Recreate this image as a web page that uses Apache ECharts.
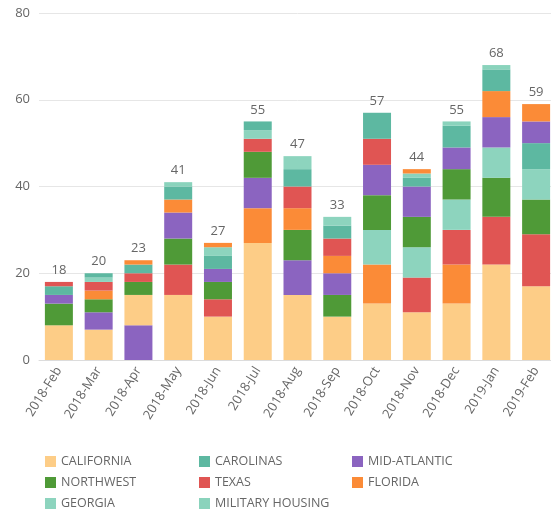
<!DOCTYPE html>
<html>
<head>
<meta charset="utf-8">
<script src="https://cdn.jsdelivr.net/npm/echarts@6/dist/echarts.min.js"></script>
<style>
  html, body { margin: 0; padding: 0; background: #fff; overflow: hidden; }
  #chart { width: 556px; height: 512px; }
</style>
</head>
<body>
<div id="chart"></div>
<script>
// Monthly counts per region
const categories = ['2018-Feb','2018-Mar','2018-Apr','2018-May','2018-Jun','2018-Jul','2018-Aug',
                    '2018-Sep','2018-Oct','2018-Nov','2018-Dec','2019-Jan','2019-Feb'];
const california      = [8, 7, 7, 15, 10, 27, 15, 10, 13, 11, 13, 22, 17];
const carolinas       = [2, 1, 2,  3,  3,  2,  4,  3,  6,  2,  5,  5,  6];
const midAtlantic     = [2, 4, 8,  6,  3,  7,  8,  5,  7,  7,  5,  7,  5];
const northwest       = [5, 3, 3,  6,  4,  6,  7,  5,  8,  7,  7,  9,  8];
const texas           = [1, 2, 2,  7,  4,  3,  5,  4,  6,  8,  8, 11, 12];
const florida         = [0, 2, 1,  3,  1,  8,  5,  4,  9,  1,  9,  6,  4];
const georgia         = [0, 1, 0,  0,  2,  2,  3,  2,  8,  7,  7,  7,  7];
const militaryHousing = [0, 0, 0,  1,  0,  0,  0,  0,  0,  1,  1,  1,  0];
const yTicks = [0, 20, 40, 60, 80];

const regions = [
  { name: 'CALIFORNIA',       values: california,      color: '#fdcd87', tie: 0 },
  { name: 'CAROLINAS',        values: carolinas,       color: '#5db8a1', tie: 7 },
  { name: 'MID-ATLANTIC',     values: midAtlantic,     color: '#8b64c0', tie: 6 },
  { name: 'NORTHWEST',        values: northwest,       color: '#4f9a37', tie: 5 },
  { name: 'TEXAS',            values: texas,           color: '#e05553', tie: 3 },
  { name: 'FLORIDA',          values: florida,         color: '#fb8b37', tie: 2 },
  { name: 'GEORGIA',          values: georgia,         color: '#8dd4be', tie: 4 },
  { name: 'MILITARY HOUSING', values: militaryHousing, color: '#8ad3bc', tie: 1 }
];

// Each column is stacked largest-first from the bottom
const perColumn = categories.map((c, i) =>
  regions.filter(r => r.values[i] > 0)
         .map(r => ({ value: r.values[i], color: r.color, tie: r.tie, name: r.name }))
         .sort((a, b) => b.value - a.value || a.tie - b.tie)
);
const totals = categories.map((c, i) => regions.reduce((s, r) => s + r.values[i], 0));
const slots = Math.max(...perColumn.map(p => p.length));

const series = [];
for (let s = 0; s < slots; s++) {
  series.push({
    type: 'bar',
    name: 'slot' + s,
    stack: 'all',
    barWidth: 28,
    data: perColumn.map(p => p[s]
      ? { value: p[s].value, itemStyle: { color: p[s].color } }
      : { value: 0 })
  });
}
// Total label on top of each column
series.push({
  type: 'bar',
  name: 'total',
  stack: 'all',
  barWidth: 28,
  data: totals.map(() => 0),
  label: {
    show: true,
    position: 'top',
    distance: 5,
    color: '#666',
    fontSize: 13,
    fontFamily: 'Open Sans',
    formatter: p => String(totals[p.dataIndex])
  }
});
// Legend entries
regions.forEach(r => {
  series.push({ type: 'bar', name: r.name, stack: 'all', data: [], itemStyle: { color: r.color } });
});

const legendBase = {
  orient: 'vertical',
  top: 455,
  height: 80,
  itemWidth: 11,
  itemHeight: 11,
  itemGap: 8,
  icon: 'rect',
  selectedMode: false,
  padding: 0,
  textStyle: { color: '#666', fontSize: 12.5, fontFamily: 'Open Sans' }
};

const chart = echarts.init(document.getElementById('chart'), null, { renderer: 'canvas' });
chart.setOption({
  animation: false,
  grid: { left: 39, right: 0, top: 13, bottom: 152, containLabel: false },
  legend: [
    Object.assign({}, legendBase, { left: 45,  data: ['CALIFORNIA', 'NORTHWEST', 'GEORGIA'] }),
    Object.assign({}, legendBase, { left: 199, data: ['CAROLINAS', 'TEXAS', 'MILITARY HOUSING'] }),
    Object.assign({}, legendBase, { left: 352, data: ['MID-ATLANTIC', 'FLORIDA'] })
  ],
  xAxis: {
    type: 'category',
    data: categories,
    axisLine: { show: true, lineStyle: { color: '#dcdcdc' } },
    axisTick: { show: false },
    axisLabel: { rotate: 58, color: '#666', fontSize: 13, fontFamily: 'Open Sans', margin: 8, interval: 0 }
  },
  yAxis: {
    type: 'value',
    min: yTicks[0],
    max: yTicks[yTicks.length - 1],
    interval: yTicks[1] - yTicks[0],
    axisLine: { show: false },
    axisTick: { show: false },
    axisLabel: { color: '#666', fontSize: 13, fontFamily: 'Open Sans', margin: 9 },
    splitLine: { lineStyle: { color: '#e6e6e6' } }
  },
  series: series
});
</script>
</body>
</html>
